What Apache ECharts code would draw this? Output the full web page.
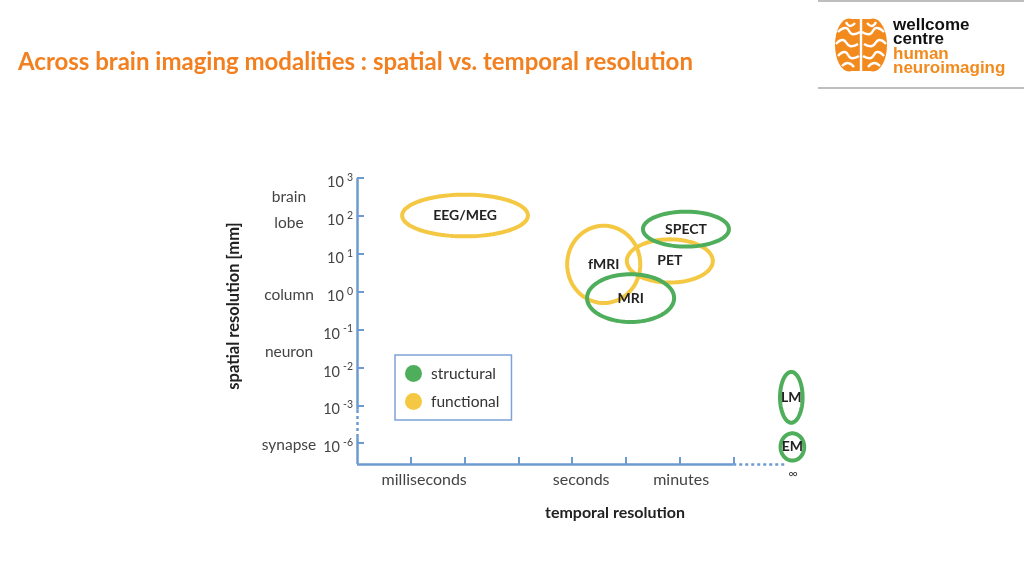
<!DOCTYPE html>
<html><head><meta charset="utf-8">
<script src="https://cdn.jsdelivr.net/npm/echarts@6/dist/echarts.min.js"></script>
<style>html,body{margin:0;padding:0;background:#fff}#c{width:1024px;height:576px}</style>
</head><body><div id="c"></div>
<script>
// ---- data ----
const yTickValues = [0, 1, 2, 3, 4, 5, 6, 7];
const yTickExponents = ['-6', '-3', '-2', '-1', '0', '1', '2', '3'];
const yScaleNames = ['brain', 'lobe', 'column', 'neuron', 'synapse'];
const yScaleNamePos = [6.5, 5.81, 3.9, 2.41, -0.05];
const xTickValues = [1, 2, 3, 4, 5, 6, 7];
const xLabelNames = ['milliseconds', 'seconds', 'minutes', '∞'];
const xLabelPos = [1.25, 4.17, 6.03, 8];
const modalities   = ['EEG/MEG', 'SPECT', 'PET', 'fMRI', 'MRI', 'LM', 'EM'];
const modalityType = ['functional', 'structural', 'functional', 'functional', 'structural', 'structural', 'structural'];
const centerX = [2.01, 6.12, 5.82, 4.59, 5.09, 8.08, 8.10];
const centerY = [6.01, 5.65, 4.81, 4.72, 3.83, 1.21, -0.10];
const radiusX = [1.17, 0.80, 0.80, 0.68, 0.81, 0.21, 0.22];
const radiusY = [0.55, 0.46, 0.57, 1.02, 0.63, 0.67, 0.36];
// axis frame: [x1, y1, x2, y2, dotted?]
const frameSegments = [
  [0, -0.55, 7, -0.55, false],
  [7, -0.55, 8, -0.55, true],
  [0, -0.55, 0, 0.16, false],
  [0, 0.16, 0, 0.88, true],
  [0, 0.88, 0, 7, false]
];

const axisColor = '#6d9bd1';
const green = '#4fae5c';
const yellow = '#f4c843';
const orange = '#f28a1e';
const FONT = 'Lato, "Open Sans", sans-serif';

function seriesData(type) {
  const out = [];
  modalities.forEach((m, i) => {
    if (modalityType[i] === type) out.push({ name: m, value: [centerX[i], centerY[i], radiusX[i], radiusY[i], i] });
  });
  return out;
}

function renderEllipse(params, api) {
  const c = api.coord([api.value(0), api.value(1)]);
  const s = api.size([api.value(2), api.value(3)]);
  const pts = [];
  for (let k = 0; k < 96; k++) {
    const a = k / 96 * Math.PI * 2;
    pts.push([c[0] + s[0] * Math.cos(a), c[1] + s[1] * Math.sin(a)]);
  }
  return {
    type: 'group',
    children: [
      { type: 'polygon', shape: { points: pts },
        style: { fill: 'none', stroke: api.visual('color'), lineWidth: 4 } },
      { type: 'text', x: c[0], y: c[1],
        style: { text: modalities[api.value(4)], fill: '#222', font: 'bold 14px ' + FONT, align: 'center', verticalAlign: 'middle' } }
    ]
  };
}

const chart = echarts.init(document.getElementById('c'), null, { renderer: 'canvas' });

// logo brain folds (white) drawn as smooth polylines
const foldLines = [
  [[861, 18], [861, 72]],
  [[838, 32], [846, 28], [852, 34], [860, 32]],
  [[836, 44], [843, 40], [850, 46], [858, 44]],
  [[838, 56], [845, 52], [851, 58], [859, 56]],
  [[842, 66], [848, 63], [854, 67]],
  [[884, 32], [876, 28], [870, 34], [862, 32]],
  [[886, 44], [879, 40], [872, 46], [864, 44]],
  [[884, 56], [877, 52], [871, 58], [863, 56]],
  [[880, 66], [874, 63], [868, 67]],
  [[846, 22], [850, 26], [855, 23]],
  [[876, 22], [872, 26], [867, 23]]
];
const brainFolds = foldLines.map(p => ({ type: 'polyline', shape: { points: p, smooth: 0.5 }, style: { fill: 'none', stroke: '#fff', lineWidth: 2.4 } }));

chart.setOption({
  animation: false,
  grid: { left: 357, top: 178, width: 430, height: 286, containLabel: false },
  legend: {
    orient: 'vertical', left: 395, top: 355,
    data: [{ name: 'structural', icon: 'circle' }, { name: 'functional', icon: 'circle' }],
    itemWidth: 17, itemHeight: 17, itemGap: 11,
    padding: [10, 12, 10, 10],
    borderColor: '#7ea3d6', borderWidth: 1.5,
    selectedMode: false,
    textStyle: { fontSize: 15.5, fontFamily: FONT, color: '#333', padding: [0, 0, 0, 4] }
  },
  xAxis: {
    type: 'value', min: 0, max: 8, interval: 1,
    axisLine: { show: false, onZero: false }, splitLine: { show: false },
    axisTick: { show: true, inside: true, length: 7, customValues: xTickValues, lineStyle: { color: axisColor, width: 2 } },
    axisLabel: {
      customValues: xLabelPos, margin: 8, fontSize: 16, fontFamily: FONT, color: '#444',
      formatter: v => {
        const name = xLabelNames[xLabelPos.indexOf(v)];
        return name === '∞' ? '{inf|∞}' : name;
      },
      rich: { inf: { fontSize: 13, lineHeight: 4, padding: [0, 0, 0, 12], color: '#444', fontFamily: FONT } }
    }
  },
  yAxis: [{
    type: 'value', min: -0.55, max: 7,
    axisLine: { show: false, onZero: false }, splitLine: { show: false },
    axisTick: { show: true, inside: true, length: 7, customValues: yTickValues, lineStyle: { color: axisColor, width: 2 } },
    axisLabel: {
      customValues: yTickValues, margin: 4,
      formatter: v => '{b|10}{s|' + yTickExponents[yTickValues.indexOf(v)] + '}',
      rich: {
        b: { fontSize: 14.5, fontFamily: FONT, color: '#444', lineHeight: 14, padding: [4, 0, 0, 0], verticalAlign: 'top' },
        s: { fontSize: 10.5, fontFamily: FONT, color: '#444', lineHeight: 4, padding: [1, 0, 0, 3], verticalAlign: 'top' }
      }
    }
  }, {
    type: 'value', min: -0.55, max: 7, position: 'left',
    axisLine: { show: false, onZero: false }, axisTick: { show: false }, splitLine: { show: false },
    axisLabel: {
      customValues: yScaleNamePos, align: 'center', margin: 68,
      fontSize: 15.5, fontFamily: FONT, color: '#444',
      formatter: v => yScaleNames[yScaleNamePos.indexOf(v)]
    }
  }],
  graphic: [
    { type: 'text', x: 18, y: 62, style: { text: 'Across brain imaging modalities : spatial vs. temporal resolution', font: 'bold 24px ' + FONT, fill: '#f28020', verticalAlign: 'middle' } },
    { type: 'text', x: 234, y: 306, rotation: Math.PI / 2,
      style: { text: 'spatial resolution [mm]', font: 'bold 16.5px ' + FONT, fill: '#222', align: 'center', verticalAlign: 'middle' } },
    { type: 'text', x: 615, y: 513,
      style: { text: 'temporal resolution', font: 'bold 16px ' + FONT, fill: '#222', align: 'center', verticalAlign: 'middle' } },
    { type: 'line', shape: { x1: 818, y1: 1, x2: 1024, y2: 1 }, style: { stroke: '#a8a8a8', lineWidth: 1.5 } },
    { type: 'line', shape: { x1: 818, y1: 88, x2: 1024, y2: 88 }, style: { stroke: '#a8a8a8', lineWidth: 1.5 } },
    { type: 'group', children: [
      { type: 'circle', shape: { cx: 849, cy: 45, r: 14 }, scaleY: 1.9, originX: 849, originY: 45, style: { fill: orange } },
      { type: 'circle', shape: { cx: 873, cy: 45, r: 14 }, scaleY: 1.9, originX: 873, originY: 45, style: { fill: orange } },
      { type: 'rect', shape: { x: 845, y: 19, width: 32, height: 52, r: 8 }, style: { fill: orange } }
    ].concat(brainFolds) },
    { type: 'text', x: 893, y: 25, style: { text: 'wellcome', font: 'bold 17px "Liberation Sans", Arial', fill: '#111', verticalAlign: 'middle' } },
    { type: 'text', x: 893, y: 39, style: { text: 'centre', font: 'bold 17px "Liberation Sans", Arial', fill: '#111', verticalAlign: 'middle' } },
    { type: 'text', x: 893, y: 54, style: { text: 'human', font: 'bold 17px "Liberation Sans", Arial', fill: orange, verticalAlign: 'middle' } },
    { type: 'text', x: 893, y: 68, style: { text: 'neuroimaging', font: 'bold 17px "Liberation Sans", Arial', fill: orange, verticalAlign: 'middle' } }
  ],
  series: [
    {
      name: 'frame', type: 'line', data: [], silent: true, xAxisIndex: 0, yAxisIndex: 0,
      markLine: {
        silent: true, symbol: ['none', 'none'], label: { show: false }, animation: false,
        data: frameSegments.map(s => [
          { coord: [s[0], s[1]], lineStyle: { color: axisColor, width: 2.5, type: s[4] ? [3, 3] : 'solid' } },
          { coord: [s[2], s[3]] }
        ])
      }
    },
    { name: 'functional', type: 'custom', renderItem: renderEllipse, clip: false, itemStyle: { color: yellow },
      data: seriesData('functional'), encode: { x: 0, y: 1 }, z: 3 },
    { name: 'structural', type: 'custom', renderItem: renderEllipse, clip: false, itemStyle: { color: green },
      data: seriesData('structural'), encode: { x: 0, y: 1 }, z: 4 }
  ]
});
</script>
</body></html>
